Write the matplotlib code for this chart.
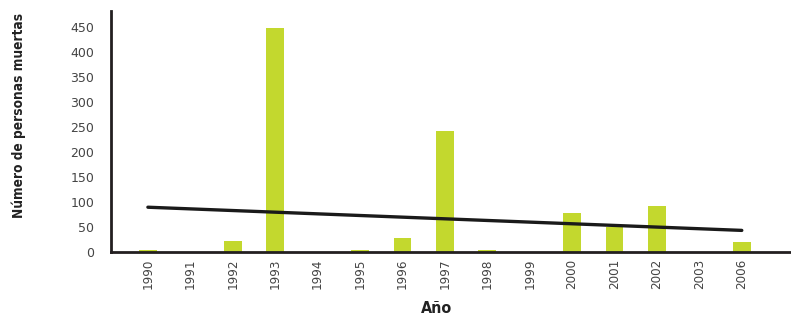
import numpy as np
import matplotlib
matplotlib.use("Agg")
import matplotlib.pyplot as plt

# --- datos ---
years = ["1990", "1991", "1992", "1993", "1994", "1995", "1996", "1997",
         "1998", "1999", "2000", "2001", "2002", "2003", "2006"]
deaths = [3, 0, 21, 448, 0, 3, 27, 241, 3, 0, 77, 50, 91, 0, 19]
yticks = [0, 50, 100, 150, 200, 250, 300, 350, 400, 450]

BAR_COLOR = "#c3d82e"
AXIS_COLOR = "#231f20"

fig = plt.figure(figsize=(7.91, 3.21), dpi=100)
ax = fig.add_axes([0.1403, 0.2165, 0.8597, 0.7492])

x = np.arange(len(years))
ax.bar(x, deaths, width=0.42, color=BAR_COLOR, zorder=2)

# línea de tendencia (ajuste lineal)
m, b = np.polyfit(x, deaths, 1)
ax.plot(x, m * x + b, color="#1a1a1a", lw=2.4, solid_capstyle="round", zorder=3)

ax.set_xlim(-0.87, 15.16)
ax.set_ylim(0, 482)
ax.set_xticks(x)
ax.set_xticklabels(years, rotation=90, fontsize=9.5, color="#444444",
                   fontstretch="condensed")
ax.set_yticks(yticks)
ax.set_yticklabels([str(v) for v in yticks], fontsize=9, color="#444444")
ax.tick_params(axis="both", length=0)
ax.tick_params(axis="y", pad=12)
ax.tick_params(axis="x", pad=5)

for s in ["top", "right"]:
    ax.spines[s].set_visible(False)
for s in ["left", "bottom"]:
    ax.spines[s].set_color(AXIS_COLOR)
    ax.spines[s].set_linewidth(2)

ax.set_ylabel("Número de personas muertas", fontsize=9.8, fontweight="bold",
              fontstretch="condensed", color="#222222")
ax.yaxis.set_label_coords(-0.125, 0.567)
ax.set_xlabel("Año", fontsize=11.5, fontweight="bold",
              fontstretch="condensed", color="#222222")
ax.xaxis.set_label_coords(0.479, -0.205)

fig.savefig("out.png", dpi=100)
